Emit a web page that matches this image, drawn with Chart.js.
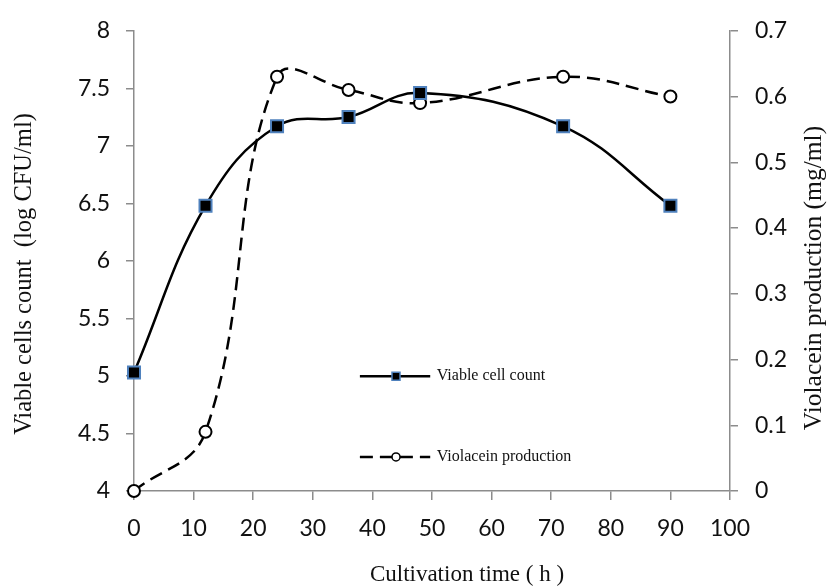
<!DOCTYPE html>
<html>
<head>
<meta charset="utf-8">
<script src="https://cdn.jsdelivr.net/npm/chart.js@4"></script>
<style>
  html, body { margin: 0; padding: 0; background: #fff; }
</style>
</head>
<body>
<canvas id="chart" width="833" height="588"></canvas>
<script>
// data
const hours = [0, 12, 24, 36, 48, 72, 90]
const viableCells = [5.03, 6.48, 7.17, 7.25, 7.46, 7.17, 6.48]
const violacein = [0, 0.09, 0.63, 0.61, 0.59, 0.63, 0.6]
const seriesNames = ['Viable cell count', 'Violacein production']
const xTitle = 'Cultivation time ( h )'
const yTitle = 'Viable cells count  (log CFU/ml)'
const y1Title = 'Violacein production (mg/ml)'

const axisGray = '#8c8c8c'
const tickFont = { family: 'Lato', size: 23 }
const serif = '"Liberation Serif", "Times New Roman", serif'

function toPoints(xs, ys) {
  return xs.map((x, i) => ({ x: x, y: ys[i] }))
}

// Excel style labels: 4, 4.5, 5 ... and 0, 0.1 ...
function plainLabel(value) {
  return String(+value.toFixed(2))
}

// legend sits inside the plot area, like in the original
const innerLegend = {
  id: 'innerLegend',
  afterDraw(chart) {
    const { ctx, chartArea: a } = chart
    const w = a.right - a.left
    const h = a.bottom - a.top
    const x0 = a.left + w * 0.379
    const x1 = a.left + w * 0.497
    const xm = a.left + w * 0.4396
    const xt = a.left + w * 0.508
    const rows = [a.top + h * 0.7505, a.top + h * 0.926]
    chart.data.datasets.forEach((ds, i) => {
      const y = rows[i]
      ctx.save()
      ctx.strokeStyle = ds.borderColor
      ctx.lineWidth = ds.borderWidth
      ctx.setLineDash(ds.borderDash || [])
      ctx.beginPath()
      ctx.moveTo(x0, y)
      ctx.lineTo(x1, y)
      ctx.stroke()
      ctx.setLineDash([])
      ctx.fillStyle = ds.pointBackgroundColor
      ctx.strokeStyle = ds.pointBorderColor
      ctx.lineWidth = 1.5
      ctx.beginPath()
      if (ds.pointStyle === 'rect') {
        ctx.rect(xm - 4, y - 4, 8, 8)
      } else {
        ctx.arc(xm, y, 4, 0, Math.PI * 2)
      }
      ctx.fill()
      ctx.stroke()
      ctx.fillStyle = '#111'
      ctx.font = '16px ' + serif
      ctx.textAlign = 'left'
      ctx.textBaseline = 'middle'
      ctx.fillText(ds.label, xt, y)
      ctx.restore()
    })
  },
}

// axis titles (they are offset from the axis centres in the original)
function drawTitle(ctx, text, x, y, size, rotate) {
  ctx.save()
  ctx.fillStyle = '#111'
  ctx.font = size + 'px ' + serif
  ctx.textAlign = 'center'
  ctx.textBaseline = 'middle'
  ctx.translate(x, y)
  if (rotate) ctx.rotate(-Math.PI / 2)
  ctx.fillText(text, 0, 0)
  ctx.restore()
}

const axisTitles = {
  id: 'axisTitles',
  afterDraw(chart) {
    const { ctx } = chart
    drawTitle(ctx, xTitle, 467, 575, 23, false)
    drawTitle(ctx, yTitle, 25, 274, 24.5, true)
    drawTitle(ctx, y1Title, 814, 278, 25.5, true)
  },
}

const ctx = document.getElementById('chart').getContext('2d')

new Chart(ctx, {
  type: 'line',
  data: {
    datasets: [
      {
        label: seriesNames[0],
        data: toPoints(hours, viableCells),
        yAxisID: 'y',
        borderColor: '#000',
        borderWidth: 2.5,
        tension: 0.4,
        clip: false,
        pointStyle: 'rect',
        pointRadius: 8.5,
        pointBackgroundColor: '#000',
        pointBorderColor: '#4f81bd',
        pointBorderWidth: 2,
      },
      {
        label: seriesNames[1],
        data: toPoints(hours, violacein),
        yAxisID: 'y1',
        borderColor: '#000',
        borderWidth: 2.5,
        borderDash: [13, 7],
        tension: 0.4,
        clip: false,
        pointStyle: 'circle',
        pointRadius: 6,
        pointBackgroundColor: '#fff',
        pointBorderColor: '#000',
        pointBorderWidth: 2,
      },
    ],
  },
  options: {
    responsive: false,
    animation: false,
    devicePixelRatio: 1,
    layout: { padding: { top: 26, left: 0, right: 0, bottom: 0 } },
    plugins: {
      legend: { display: false },
      tooltip: { enabled: false },
    },
    scales: {
      x: {
        type: 'linear',
        min: 0,
        max: 100,
        ticks: { stepSize: 10, font: tickFont, color: '#111', padding: 15, maxRotation: 0 },
        grid: { drawOnChartArea: false, drawTicks: true, tickLength: 9, color: axisGray, lineWidth: 1.5 },
        border: { color: axisGray, width: 1.5 },
        afterFit(scale) { scale.height = 97 },
      },
      y: {
        position: 'left',
        min: 4,
        max: 8,
        ticks: { stepSize: 0.5, font: tickFont, color: '#111', padding: 16, callback: plainLabel },
        grid: { drawOnChartArea: false, drawTicks: true, tickLength: 8, color: axisGray, lineWidth: 1.5 },
        border: { color: axisGray, width: 1.5 },
        afterFit(scale) { scale.width = 134 },
      },
      y1: {
        position: 'right',
        min: 0,
        max: 0.7,
        ticks: { stepSize: 0.1, font: tickFont, color: '#111', padding: 17, callback: plainLabel },
        grid: { drawOnChartArea: false, drawTicks: true, tickLength: 8, color: axisGray, lineWidth: 1.5 },
        border: { color: axisGray, width: 1.5 },
        afterFit(scale) { scale.width = 103 },
      },
    },
  },
  plugins: [innerLegend, axisTitles],
})
</script>
</body>
</html>
